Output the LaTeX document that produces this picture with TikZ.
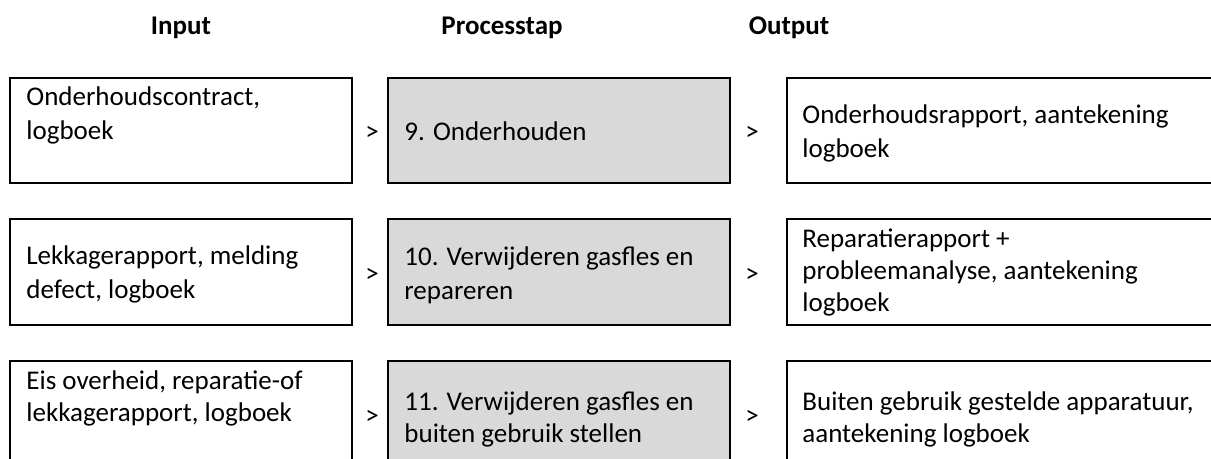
\documentclass[tikz,border=0pt]{standalone}
\usepackage{fontspec}
\setmainfont{Carlito}
\definecolor{procgray}{HTML}{D9D9D9}
\begin{document}
\begin{tikzpicture}[x=0.5pt, y=-0.5pt,
                        box/.style={draw, line width=1pt, rectangle, inner sep=0pt},
                        inbox/.style={box, minimum width=171pt},
                        procbox/.style={box, fill=procgray, minimum width=171pt},
                        outbox/.style={box, minimum width=219pt},
                        txt/.style={anchor=base west, inner sep=0pt, align=left, font=\fontsize{13.5}{17}\selectfont},
                        txtsm/.style={txt, font=\fontsize{13.5}{16}\selectfont},
                        head/.style={anchor=base, inner sep=0pt, font=\fontsize{13.5}{16}\selectfont\bfseries},
                        gt/.style={inner sep=0pt, font=\fontsize{13.5}{16}\selectfont}]
                        \useasboundingbox (0, 0) rectangle (1211, 459);
                        \clip (0, 0) rectangle (1211, 459);

                        \node[head] (hin) at (181, 35) {Input};
                        \node[head] (hproc) at (502, 35) {Processtap};
                        \node[head] (hout) at (789, 35) {Output};

                        % rij 1 (text anchored at baseline of last line)
                        \node[inbox, minimum height=52.5pt] (in1) at (181, 130.5) {};
                        \node[procbox, minimum height=52.5pt] (proc1) at (559, 130.5) {};
                        \node[outbox, minimum height=52.5pt] (out1) at (1006, 130.5) {};
                        \node[gt] (gta1) at (372, 133) {>};
                        \node[gt] (gtb1) at (752, 133) {>};
                        \node[txt] (in1t) at (26, 140) {Onderhoudscontract,\\logboek};
                        \node[txt] (proc1t) at (404, 141) {9. Onderhouden};
                        \node[txt] (out1t) at (802, 158) {Onderhoudsrapport, aantekening\\logboek};

                        % rij 2
                        \node[inbox, minimum height=53pt] (in2) at (181, 272) {};
                        \node[procbox, minimum height=53pt] (proc2) at (559, 272) {};
                        \node[outbox, minimum height=53pt] (out2) at (1006, 272) {};
                        \node[gt] (gta2) at (372, 275) {>};
                        \node[gt] (gtb2) at (752, 275) {>};
                        \node[txt] (in2t) at (26, 299) {Lekkagerapport, melding\\defect, logboek};
                        \node[txt] (proc2t) at (404, 300) {10. Verwijderen gasfles en\\repareren};
                        \node[txtsm] (out2t) at (802, 312) {Reparatierapport +\\probleemanalyse, aantekening\\logboek};

                        % rij 3
                        \node[inbox, minimum height=54.5pt] (in3) at (181, 415.5) {};
                        \node[procbox, minimum height=54.5pt] (proc3) at (559, 415.5) {};
                        \node[outbox, minimum height=54.5pt] (out3) at (1006, 415.5) {};
                        \node[gt] (gta3) at (372, 417) {>};
                        \node[gt] (gtb3) at (752, 417) {>};
                        \node[txtsm] (in3t) at (26, 422) {Eis overheid, reparatie-of\\lekkagerapport, logboek};
                        \node[txtsm] (proc3t) at (404, 443) {11. Verwijderen gasfles en\\buiten gebruik stellen};
                        \node[txtsm] (out3t) at (802, 443) {Buiten gebruik gestelde apparatuur,\\aantekening logboek};
                    \end{tikzpicture}
\end{document}
